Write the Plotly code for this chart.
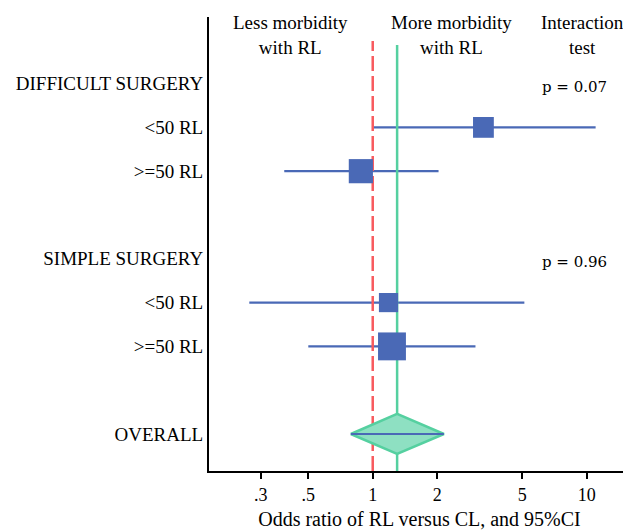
import math
import plotly.graph_objects as go

# ---- data ----
row_labels = ["DIFFICULT SURGERY", "<50 RL", ">=50 RL",
              "SIMPLE SURGERY", "<50 RL", ">=50 RL", "OVERALL"]
row_pos = [10, 9, 8, 6, 5, 4, 2]

sub_pos = [9, 8, 5, 4]
sub_or = [3.29, 0.88, 1.185, 1.23]
sub_lo = [1.0, 0.386, 0.265, 0.50]
sub_hi = [11.0, 2.03, 5.11, 3.02]
sub_weight = [20, 27, 17, 36]

overall_pos = 2
overall_or = 1.30
overall_lo = 0.79
overall_hi = 2.15

p_labels = ["p = 0.07", "p = 0.96"]
p_pos = [10, 6]

tick_vals = [0.3, 0.5, 1, 2, 5, 10]
tick_text = [".3", ".5", "1", "2", "5", "10"]

BLUE = "#4a69b6"
RED = "#f85a5e"
GREEN = "#55d0a0"
GFILL = "#8ee0c2"
FONT = "Liberation Serif"

Y0, Y1 = 1.155, 11.52

fig = go.Figure()

# confidence intervals
for p, lo, hi in zip(sub_pos, sub_lo, sub_hi):
    fig.add_trace(go.Scatter(x=[lo, hi], y=[p, p], mode="lines",
                             line=dict(color=BLUE, width=2.2), hoverinfo="skip", showlegend=False))

# reference lines
fig.add_trace(go.Scatter(x=[1, 1], y=[Y0, 10.97], mode="lines",
                         line=dict(color=RED, width=2.5, dash="15px,5px"),
                         hoverinfo="skip", showlegend=False))
fig.add_trace(go.Scatter(x=[overall_or, overall_or], y=[Y0, 10.88], mode="lines",
                         line=dict(color=GREEN, width=2.5), hoverinfo="skip", showlegend=False))

# squares
fig.add_trace(go.Scatter(x=sub_or, y=sub_pos, mode="markers", opacity=1,
                         marker=dict(symbol="square", color=BLUE, opacity=1,
                                     size=[4.65 * math.sqrt(w) for w in sub_weight],
                                     line=dict(width=0)),
                         showlegend=False))

# overall diamond
h = 0.457
fig.add_trace(go.Scatter(x=[overall_lo, overall_or, overall_hi, overall_or, overall_lo],
                         y=[overall_pos, overall_pos + h, overall_pos, overall_pos - h, overall_pos],
                         mode="lines", fill="toself", fillcolor=GFILL,
                         line=dict(color=GREEN, width=2.5), hoverinfo="skip", showlegend=False))
fig.add_trace(go.Scatter(x=[overall_lo, overall_hi], y=[overall_pos, overall_pos], mode="lines",
                         line=dict(color=BLUE, width=2.2), hoverinfo="skip", showlegend=False))

# header annotations
headers = [("Less morbidity<br>with RL", 0.1935), ("More morbidity<br>with RL", 0.576),
           ("Interaction<br>test", 0.887)]
for txt, xp in headers:
    fig.add_annotation(x=xp, xref="paper", y=11.11, yref="y", text=txt, showarrow=False,
                       font=dict(family=FONT, size=19, color="black"), xanchor="center",
                       yanchor="middle")

for txt, p in zip(p_labels, p_pos):
    fig.add_annotation(x=0.867, xref="paper", y=p, yref="y", text=txt, showarrow=False,
                       font=dict(family="DejaVu Serif", size=15, color="black"),
                       xanchor="center", yanchor="middle", yshift=-3)

fig.update_layout(
    width=623, height=522,
    margin=dict(l=201, r=1, t=9, b=59),
    paper_bgcolor="white", plot_bgcolor="white",
    font=dict(family=FONT, size=18, color="black"),
    showlegend=False,
)
fig.update_xaxes(type="log", range=[-0.765, 1.202], tickvals=tick_vals, ticktext=tick_text,
                 showgrid=False, zeroline=False, showline=True, linecolor="black", linewidth=2,
                 ticks="outside", ticklen=6, tickwidth=2, tickcolor="black",
                 tickfont=dict(family=FONT, size=18),
                 title=dict(text="Odds ratio of RL versus CL, and 95%CI",
                            font=dict(family=FONT, size=20), standoff=9))
fig.update_yaxes(range=[Y0, Y1], tickvals=row_pos, ticktext=row_labels,
                 showgrid=False, zeroline=False, showline=True, linecolor="black", linewidth=2,
                 ticks="", ticklen=0,
                 tickfont=dict(family=FONT, size=19))

fig.write_html("out.html")
